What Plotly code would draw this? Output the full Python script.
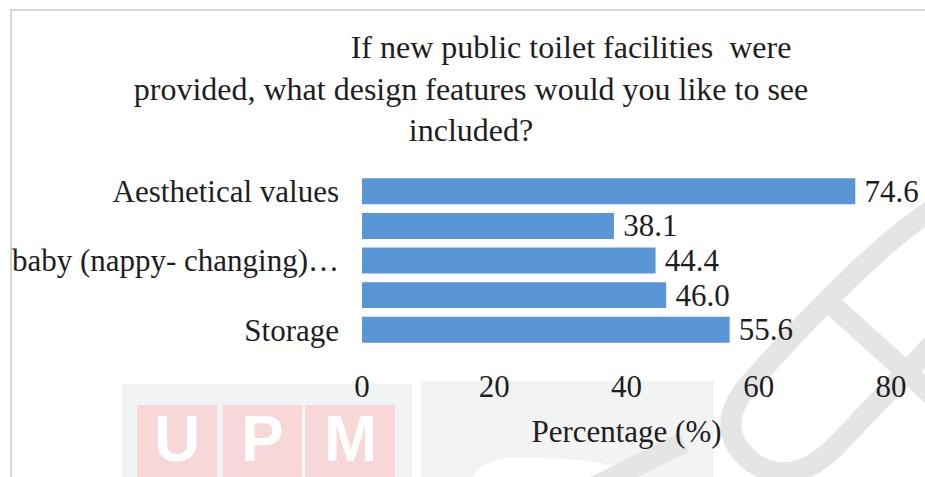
import plotly.graph_objects as go

# Survey results: preferred design features for new public toilets
tick_labels = ["Aesthetical values", "", "baby (nappy- changing)…", "", "Storage"]
percentages = [74.6, 38.1, 44.4, 46.0, 55.6]
positions = list(range(len(percentages)))
x_ticks = [0, 20, 40, 60, 80]

W, H = 925, 477
L, R, T, B = 362, 34, 174, 130
PW, PH = W - L - R, H - T - B

FONT = "Liberation Serif, Times New Roman, serif"
INK = "#1e1e1e"
BAR = "#5a96d6"


def px(x, y):
    """Pixel position on the page -> paper coordinates."""
    return (x - L) / PW, (H - B - y) / PH


def path(points, cmds):
    out = []
    for c, pts in zip(cmds, points):
        coords = " ".join(f"{a:.4f},{b:.4f}" for a, b in (px(*p) for p in pts))
        out.append(f"{c} {coords}")
    return " ".join(out)


fig = go.Figure(
    go.Bar(
        x=percentages,
        y=positions,
        orientation="h",
        marker=dict(color=BAR, line=dict(width=0)),
        text=[f"\u2009{v:.1f}" for v in percentages],
        textposition="outside",
        constraintext="none",
        cliponaxis=False,
        textfont=dict(family=FONT, size=31, color=INK),
        hoverinfo="skip",
    )
)

shapes = []


def rect(x0, y0, x1, y1, color):
    a, b = px(x0, y1)
    c, d = px(x1, y0)
    shapes.append(dict(type="rect", xref="paper", yref="paper", x0=a, y0=b, x1=c, y1=d,
                       fillcolor=color, line=dict(width=0), layer="below"))


# faint logo panels along the bottom
rect(122, 384, 412, 480, "#f2f3f3")
rect(137, 405, 217, 480, "#f7d7d7")
rect(223, 405, 302, 480, "#f7d7d7")
rect(305, 405, 395, 480, "#f7d7d7")
rect(421, 381, 714, 480, "#f2f3f3")
shapes.append(dict(type="path", xref="paper", yref="paper", layer="below",
                   path=path([[(472, 480)], [(474, 466), (505, 458), (540, 466)],
                              [(575, 456), (615, 466)], [(618, 480)]], ["M", "Q", "Q", "L"]) + " Z",
                   fillcolor="#ffffff", line=dict(width=0)))

# light grey diagonal stroke lettering
stroke = dict(color="#e5e5e5", width=21)
shapes.append(dict(type="path", xref="paper", yref="paper", layer="below", line=stroke,
                   path=path([[(588, 490)], [(684, 442)]], ["M", "L"])))
shapes.append(dict(type="path", xref="paper", yref="paper", layer="below", line=stroke,
                   path=path([[(935, 208)], [(870, 248), (744, 390)],
                              [(714, 432), (752, 462)], [(792, 490), (836, 446)], [(935, 342)]],
                             ["M", "Q", "Q", "Q", "L"])))
shapes.append(dict(type="path", xref="paper", yref="paper", layer="below", line=stroke,
                   path=path([[(820, 294)], [(935, 398)]], ["M", "L"])))

# page frame
shapes.append(dict(type="line", xref="paper", yref="paper", layer="below",
                   x0=px(11, 10)[0], y0=px(11, 10)[1], x1=px(11, 480)[0], y1=px(11, 480)[1],
                   line=dict(color="#d6d6d6", width=2)))
shapes.append(dict(type="line", xref="paper", yref="paper", layer="below",
                   x0=px(10, 10)[0], y0=px(10, 10)[1], x1=px(930, 10)[0], y1=px(930, 10)[1],
                   line=dict(color="#d6d6d6", width=2)))

annotations = []
for letter, cx in [("U", 177), ("P", 262), ("M", 350)]:
    ax, ay = px(cx, 477)
    annotations.append(dict(text=f"<b>{letter}</b>", x=ax, y=ay, xref="paper", yref="paper",
                            xanchor="center", yanchor="bottom", showarrow=False,
                            font=dict(family="Liberation Sans, Arial, sans-serif", size=64,
                                      color="#ffffff")))

title_text = ("&nbsp;" * 25 + "If new public toilet facilities&nbsp;&nbsp;were<br>"
              "provided, what design features would you like to see<br>included?")

fig.update_layout(
    width=W,
    height=H,
    margin=dict(l=L, r=R, t=T, b=B, pad=0, autoexpand=False),
    paper_bgcolor="#ffffff",
    plot_bgcolor="rgba(0,0,0,0)",
    showlegend=False,
    bargap=0.25,
    font=dict(family=FONT, size=31, color=INK),
    title=dict(text=title_text, x=471 / W, xanchor="center", y=1 - 58 / H, yanchor="top",
               xref="container", yref="container",
               font=dict(family=FONT, size=32, color=INK)),
    xaxis=dict(range=[0, 80], tickvals=x_ticks, showgrid=False, zeroline=False,
               showline=False, ticks="", ticklabelstandoff=18, automargin=False,
               tickfont=dict(family=FONT, size=31, color=INK),
               title=dict(text="Percentage (%)", standoff=17,
                          font=dict(family=FONT, size=31, color=INK))),
    yaxis=dict(tickvals=positions, ticktext=tick_labels, autorange="reversed",
               showgrid=False, zeroline=False, showline=False, ticks="", automargin=False,
               ticklabelstandoff=22, tickfont=dict(family=FONT, size=31, color=INK)),
    shapes=shapes,
    annotations=annotations,
)

fig.write_html("out.html")
